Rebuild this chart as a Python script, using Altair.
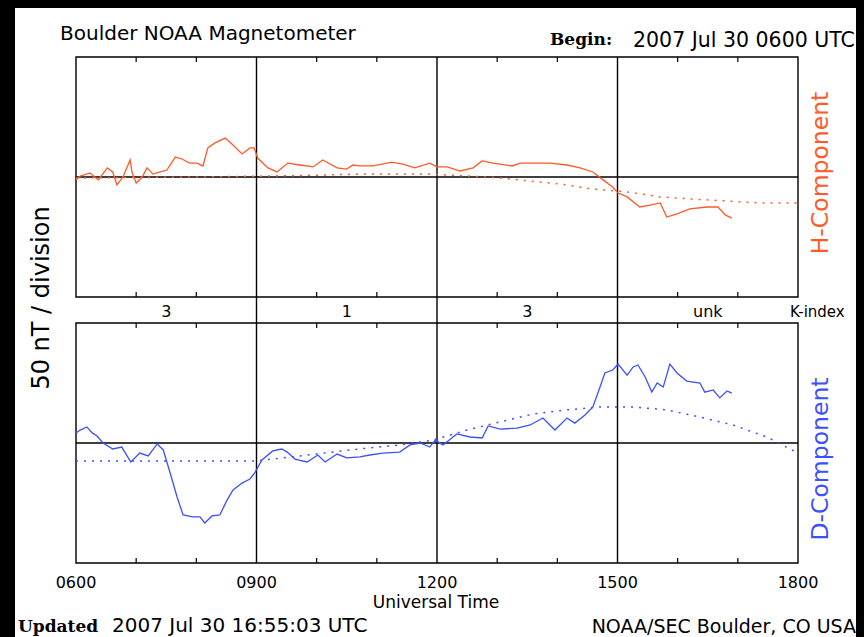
import altair as alt
import pandas as pd

# ---------------- data (hours UT, nT) ----------------
h_time = [6.00, 6.07, 6.23, 6.37, 6.52, 6.61, 6.68, 6.78, 6.90, 6.93, 7.00, 7.10, 7.18, 7.28, 7.40,
          7.51, 7.65, 7.76, 7.89, 8.01, 8.11, 8.19, 8.31, 8.48, 8.61, 8.76, 8.89, 8.96, 9.02, 9.19,
          9.34, 9.52, 9.72, 9.94, 10.10, 10.34, 10.50, 10.60, 10.72, 10.94, 11.25, 11.43, 11.63, 11.88, 12.00,
          12.17, 12.38, 12.60, 12.75, 12.93, 13.25, 13.38, 13.71, 13.88, 14.16, 14.38, 14.59, 14.76, 14.92, 15.01,
          15.16, 15.37, 15.54, 15.71, 15.82, 15.99, 16.20, 16.49, 16.67, 16.79, 16.90]
h_val = [-1.2, 0.4, 1.7, -1.2, 3.8, 2.1, -3.3, 0.0, 7.1, 2.1, -2.5, 0.0, 3.8, 1.2, 2.1,
         2.9, 8.3, 7.5, 5.8, 5.8, 4.6, 12.1, 14.2, 16.2, 13.3, 9.6, 12.1, 12.1, 7.9, 3.8,
         2.1, 5.8, 5.0, 4.2, 7.1, 3.8, 3.3, 5.0, 4.6, 4.6, 6.2, 5.4, 3.8, 5.8, 4.2,
         4.2, 2.5, 3.8, 6.7, 5.8, 4.6, 5.8, 5.8, 5.8, 5.0, 3.8, 2.1, -1.2, -4.2, -6.7,
         -8.3, -12.5, -11.7, -10.8, -16.7, -15.4, -13.3, -12.5, -12.5, -15.8, -17.1]

hq_time = [6.0, 8.06, 9.72, 10.72, 11.88, 12.55, 13.05, 13.55, 14.04, 14.59, 15.16, 15.71, 16.25, 16.82, 17.37, 18.0]
hq_val = [-0.4, 0.0, 0.6, 1.2, 1.2, 0.4, -0.4, -1.7, -2.9, -5.0, -6.2, -8.3, -9.2, -10.0, -10.8, -10.8]

d_time = [6.00, 6.07, 6.18, 6.27, 6.35, 6.45, 6.61, 6.76, 6.91, 7.06, 7.20, 7.35, 7.45, 7.56, 7.68,
          7.78, 7.94, 8.06, 8.14, 8.26, 8.39, 8.51, 8.61, 8.76, 8.89, 8.97, 9.09, 9.27, 9.42, 9.51,
          9.64, 9.84, 10.02, 10.14, 10.34, 10.50, 10.72, 10.88, 11.10, 11.38, 11.55, 11.72, 11.88, 11.97, 12.10,
          12.33, 12.55, 12.75, 12.85, 13.05, 13.33, 13.55, 13.76, 13.96, 14.16, 14.29, 14.46, 14.59, 14.71, 14.79,
          14.92, 15.01, 15.16, 15.26, 15.34, 15.46, 15.57, 15.66, 15.76, 15.87, 15.99, 16.15, 16.37, 16.45, 16.59,
          16.70, 16.82, 16.90]
d_val = [4.2, 5.4, 6.7, 4.2, 2.9, 0.0, -2.5, -1.7, -7.9, -4.2, -5.4, -0.4, -2.9, -12.1, -22.5,
         -30.0, -30.8, -30.8, -33.3, -30.4, -30.0, -23.8, -19.6, -16.7, -15.0, -12.5, -7.1, -3.3, -2.5, -3.8,
         -6.7, -7.9, -5.0, -7.9, -4.6, -6.2, -5.8, -5.0, -4.2, -3.8, -0.8, 0.0, -1.7, 1.2, -0.8,
         3.8, 2.5, 2.1, 7.1, 5.8, 6.2, 7.5, 10.4, 5.4, 10.4, 8.3, 11.7, 15.0, 23.3, 29.2,
         30.4, 32.9, 28.3, 31.7, 32.5, 27.5, 21.2, 25.0, 23.3, 32.9, 29.2, 25.8, 25.0, 21.2, 22.1,
         18.8, 21.7, 20.8]

dq_time = [6.0, 8.97, 9.72, 10.55, 11.38, 11.93, 12.50, 13.05, 13.60, 14.16, 14.71, 15.26, 15.82, 16.37, 16.92, 17.48, 18.0]
dq_val = [-7.5, -7.5, -5.4, -2.9, -0.8, 1.2, 5.4, 8.8, 12.1, 13.8, 15.0, 15.0, 13.8, 10.8, 7.5, 2.5, -4.2]

k_time = [7.5, 10.5, 13.5, 16.5]
k_label = ["3", "1", "3", "unk"]
major_hours = [9, 12, 15]
minor_hours = [7, 8, 10, 11, 13, 14, 16, 17]
tick_hours = [6, 9, 12, 15, 18]
tick_labels = ["0600", "0900", "1200", "1500", "1800"]

# ---------------- layout ----------------
W, H = 722, 506
PANEL = 240
GAP = 26
ORANGE = "#FF5A28"
BLUE = "#3C50FF"
SANS = "DejaVu Sans"
SERIF = "DejaVu Serif"

xs = alt.Scale(domain=[6, 18], nice=False)
top_ys = alt.Scale(domain=[-50, 50], range=[PANEL, 0], nice=False)
bot_ys = alt.Scale(domain=[-50, 50], range=[H, PANEL + GAP], nice=False)

one = pd.DataFrame({"a": [0]})


def box(x0, x1, y0, y1, **kw):
    return alt.Chart(one).mark_rect(**kw).encode(
        x=alt.value(x0), x2=alt.value(x1), y=alt.value(y0), y2=alt.value(y1))


def label(text, x, y, size, color="black", font=SANS, weight="normal", align="left",
          angle=0, baseline="alphabetic"):
    return alt.Chart(pd.DataFrame({"t": [text]})).mark_text(
        fontSize=size, color=color, font=font, fontWeight=weight, align=align,
        angle=angle, baseline=baseline).encode(
        x=alt.value(x), y=alt.value(y), text="t:N")


layers = []
layers.append(box(-76, 788, -57, 580, color="black"))
layers.append(box(-61, 780, -49, 580, color="white"))

# panel frames
layers.append(box(0, W, 0, PANEL, fillOpacity=0, stroke="black", strokeWidth=1.4))
layers.append(box(0, W, PANEL + GAP, H, fillOpacity=0, stroke="black", strokeWidth=1.4))

# major vertical lines across both panels
maj = pd.DataFrame({"h": major_hours})
layers.append(alt.Chart(maj).mark_rule(color="black", strokeWidth=1.4).encode(
    x=alt.X("h:Q", scale=xs, axis=None), y=alt.value(0), y2=alt.value(H)))

# minor hour ticks (inward)
mino = pd.DataFrame({"h": minor_hours})
for y0, y1 in [(0, 5), (PANEL - 5, PANEL), (PANEL + GAP, PANEL + GAP + 5), (H - 5, H)]:
    layers.append(alt.Chart(mino).mark_rule(color="black", strokeWidth=1.2).encode(
        x=alt.X("h:Q", scale=xs, axis=None), y=alt.value(y0), y2=alt.value(y1)))

# zero lines
zero = pd.DataFrame({"v": [0]})
layers.append(alt.Chart(zero).mark_rule(color="black", strokeWidth=1.4).encode(
    y=alt.Y("v:Q", scale=top_ys, axis=None), x=alt.value(0), x2=alt.value(W)))
layers.append(alt.Chart(zero).mark_rule(color="black", strokeWidth=1.4).encode(
    y=alt.Y("v:Q", scale=bot_ys, axis=None), x=alt.value(0), x2=alt.value(W)))

# series
hq = pd.DataFrame({"t": hq_time, "v": hq_val})
hh = pd.DataFrame({"t": h_time, "v": h_val})
dq = pd.DataFrame({"t": dq_time, "v": dq_val})
dd = pd.DataFrame({"t": d_time, "v": d_val})

layers.append(alt.Chart(hq).mark_line(color=ORANGE, strokeWidth=1.5, strokeDash=[2, 6]).encode(
    x=alt.X("t:Q", scale=xs, axis=None), y=alt.Y("v:Q", scale=top_ys, axis=None)))
layers.append(alt.Chart(hh).mark_line(color=ORANGE, strokeWidth=1.3).encode(
    x=alt.X("t:Q", scale=xs, axis=None), y=alt.Y("v:Q", scale=top_ys, axis=None)))
layers.append(alt.Chart(dq).mark_line(color=BLUE, strokeWidth=1.5, strokeDash=[2, 6]).encode(
    x=alt.X("t:Q", scale=xs, axis=None), y=alt.Y("v:Q", scale=bot_ys, axis=None)))
layers.append(alt.Chart(dd).mark_line(color=BLUE, strokeWidth=1.3).encode(
    x=alt.X("t:Q", scale=xs, axis=None), y=alt.Y("v:Q", scale=bot_ys, axis=None)))

# K-index labels
kd = pd.DataFrame({"h": k_time, "k": k_label})
layers.append(alt.Chart(kd).mark_text(fontSize=16, font=SANS, color="black", baseline="alphabetic").encode(
    x=alt.X("h:Q", scale=xs, axis=None), y=alt.value(260), text="k:N"))
layers.append(label("K-index", 714, 260, 15))

# x tick labels
td = pd.DataFrame({"h": tick_hours, "l": tick_labels})
layers.append(alt.Chart(td).mark_text(fontSize=16, font=SANS, color="black", baseline="alphabetic").encode(
    x=alt.X("h:Q", scale=xs, axis=None), y=alt.value(531), text="l:N"))
layers.append(label("Universal Time", 360, 551, 17, align="center"))

# texts
layers.append(label("Boulder NOAA Magnetometer", -16, -17, 20))
layers.append(label("Begin:", 474, -12, 17, font=SERIF, weight="bold"))
layers.append(label("2007 Jul 30 0600 UTC", 557, -10, 20.5))
layers.append(label("Updated", -58, 575, 17, font=SERIF, weight="bold"))
layers.append(label("2007 Jul 30 16:55:03 UTC", 36, 575, 20))
layers.append(label("NOAA/SEC Boulder, CO USA", 780, 576, 19, align="right"))
layers.append(label("H-Component", 745, 116, 23.5, color=ORANGE, align="center", angle=270, baseline="middle"))
layers.append(label("D-Component", 745, 402, 23.5, color=BLUE, align="center", angle=270, baseline="middle"))
layers.append(label("50 nT / division", -34, 241, 24, align="center", angle=270, baseline="middle"))

chart = alt.layer(*layers).resolve_scale(y="independent").properties(
    width=W, height=H, padding=0
).configure(background="black").configure_view(stroke=None)

chart.save("out.html", embed_options={"renderer": "svg", "actions": False})
